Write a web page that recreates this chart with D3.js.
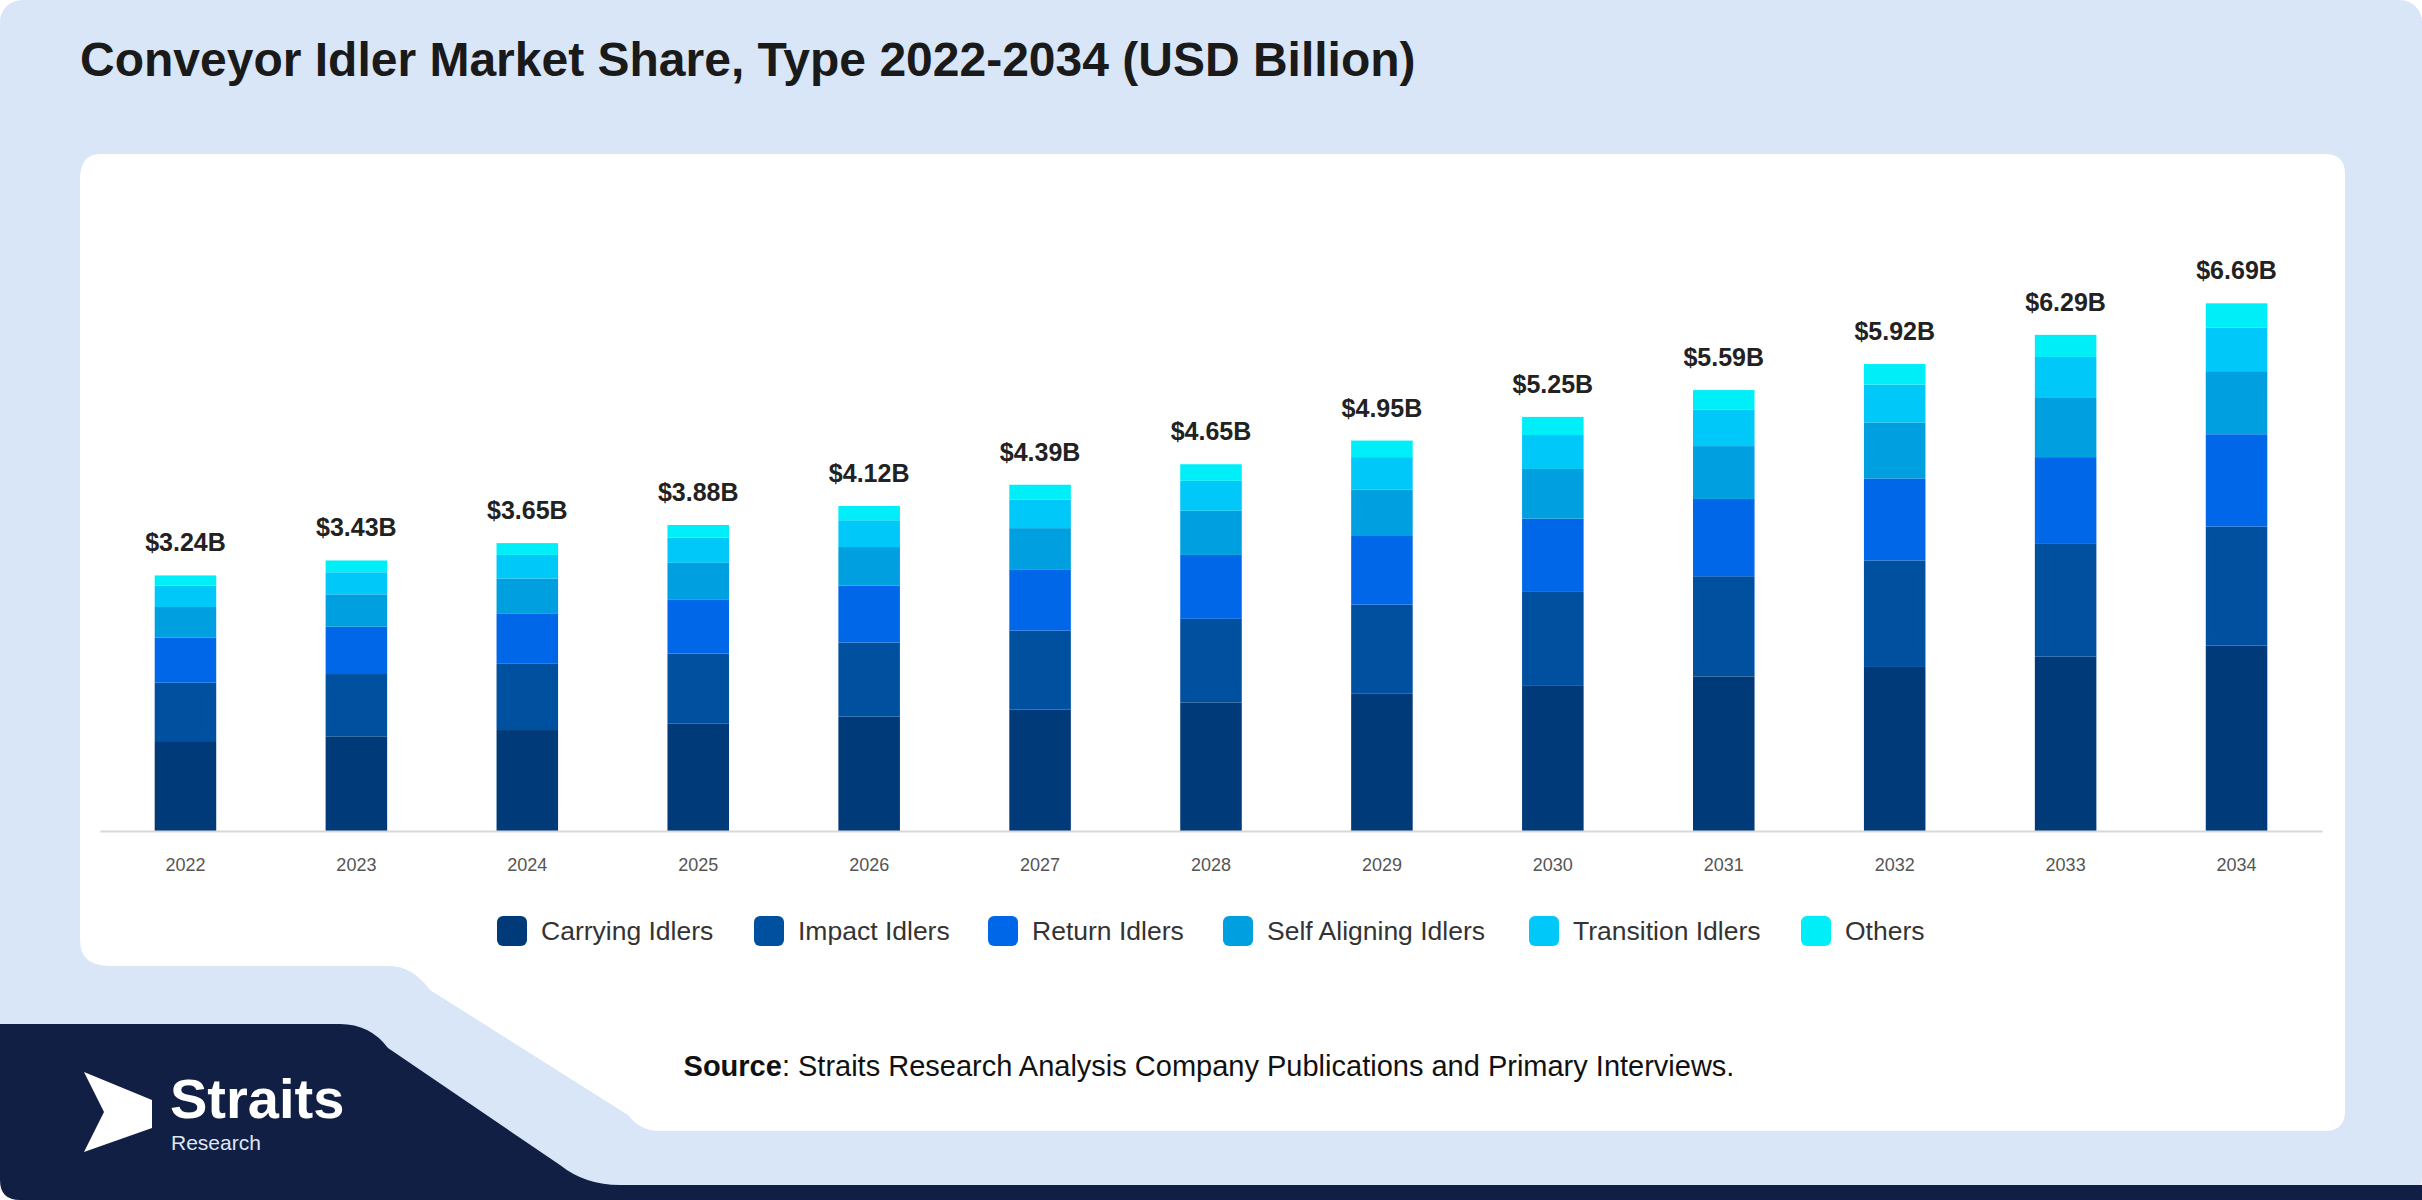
<!DOCTYPE html>
<html><head><meta charset="utf-8">
<script src="https://cdn.jsdelivr.net/npm/d3@7"></script>
<style>body{margin:0;background:#fff}svg{display:block;font-family:Arial,"Liberation Sans",sans-serif}</style>
</head><body><svg id="c" width="2422" height="1200"></svg>
<script>
const years=["2022","2023","2024","2025","2026","2027","2028","2029","2030","2031","2032","2033","2034"];
const totals=[3.24,3.43,3.65,3.88,4.12,4.39,4.65,4.95,5.25,5.59,5.92,6.29,6.69];
const seriesNames=["Carrying Idlers","Impact Idlers","Return Idlers","Self Aligning Idlers","Transition Idlers","Others"];
const carrying=[1.14,1.20,1.28,1.36,1.45,1.54,1.63,1.74,1.84,1.96,2.08,2.21,2.35];
const impact=[0.74,0.79,0.84,0.89,0.94,1.00,1.06,1.13,1.20,1.27,1.35,1.43,1.51];
const ret=[0.57,0.60,0.64,0.68,0.72,0.77,0.81,0.87,0.92,0.98,1.04,1.10,1.17];
const selfAl=[0.39,0.41,0.44,0.47,0.49,0.53,0.56,0.59,0.63,0.67,0.71,0.75,0.80];
const transition=[0.27,0.28,0.30,0.32,0.34,0.36,0.38,0.41,0.43,0.46,0.48,0.52,0.55];
const others=[0.13,0.15,0.15,0.16,0.18,0.19,0.21,0.21,0.23,0.25,0.26,0.28,0.31];
const colors=["#003a78","#0050a0","#0068e8","#00a0e0","#00c8f8","#00eef8"];

const svg=d3.select("#c");
svg.append("rect").attr("width",2422).attr("height",1200).attr("rx",22).attr("fill","#d9e6f8");
svg.append("path").attr("fill","#fff").attr("d","M100,154 H2325 Q2345,154 2345,174 V1111 Q2345,1131 2325,1131 H660 Q640,1131 628,1115 L430,990 Q412,966 390,966 H110 Q80,966 80,940 V180 Q80,154 100,154 Z");
svg.append("path").attr("fill","#121f45").attr("d","M0,1024 H340 Q370,1024 388,1048 L560,1165 Q585,1185 620,1185 H2422 V1200 H20 Q0,1200 0,1180 Z");
svg.append("text").attr("x",80).attr("y",76).attr("font-size",48).attr("font-weight","bold").attr("fill","#1a1a1a").text("Conveyor Idler Market Share, Type 2022-2034 (USD Billion)");

const x=d3.scaleBand().domain(years).range([100,2322]).paddingInner(0.64).paddingOuter(0.32);
const y=d3.scaleLinear().domain([0,8]).range([831,200]);
const rows=years.map((yr,i)=>({year:yr,s0:carrying[i],s1:impact[i],s2:ret[i],s3:selfAl[i],s4:transition[i],s5:others[i]}));
const stack=d3.stack().keys(["s0","s1","s2","s3","s4","s5"])(rows);
svg.append("g").selectAll("g").data(stack).join("g").attr("fill",(d,i)=>colors[i])
 .selectAll("rect").data(d=>d).join("rect")
 .attr("x",d=>x(d.data.year)).attr("width",x.bandwidth())
 .attr("y",d=>y(d[1])).attr("height",d=>y(d[0])-y(d[1]));
const ax=svg.append("g").attr("transform","translate(0,831)").call(d3.axisBottom(x).tickSize(0).tickPadding(27));
ax.select(".domain").attr("stroke","#d8d8d8").attr("stroke-width",2);
ax.selectAll("text").attr("font-size",18).attr("fill","#555").attr("font-family","Arial,'Liberation Sans',sans-serif");
svg.append("g").selectAll("text").data(years).join("text")
 .attr("x",d=>x(d)+x.bandwidth()/2).attr("y",(d,i)=>y(d3.sum(stack,s=>s[i][1]-s[i][0]))-24)
 .attr("text-anchor","middle").attr("font-size",25).attr("font-weight","bold").attr("fill","#222")
 .text((d,i)=>"$"+totals[i].toFixed(2)+"B");
const lx=[497,754,988,1223,1529,1801];
const lg=svg.append("g").selectAll("g").data(seriesNames).join("g").attr("transform",(d,i)=>`translate(${lx[i]},916)`);
lg.append("rect").attr("width",30).attr("height",30).attr("rx",6).attr("fill",(d,i)=>colors[i]);
lg.append("text").attr("x",44).attr("y",24).attr("font-size",26.5).attr("fill","#333").text(d=>d);
const st=svg.append("text").attr("x",1209).attr("y",1076).attr("text-anchor","middle").attr("font-size",29).attr("fill","#111");
st.append("tspan").attr("font-weight","bold").text("Source");
st.append("tspan").text(": Straits Research Analysis Company Publications and Primary Interviews.");
svg.append("path").attr("fill","#fff").attr("d","M84,1072 L152,1100 V1128 L84,1152 L104,1112 Z");
svg.append("text").attr("x",170).attr("y",1118).attr("font-size",56).attr("font-weight","bold").attr("fill","#fff").text("Straits");
svg.append("text").attr("x",171).attr("y",1150).attr("font-size",21).attr("fill","#dfe6f2").text("Research");
</script></body></html>
